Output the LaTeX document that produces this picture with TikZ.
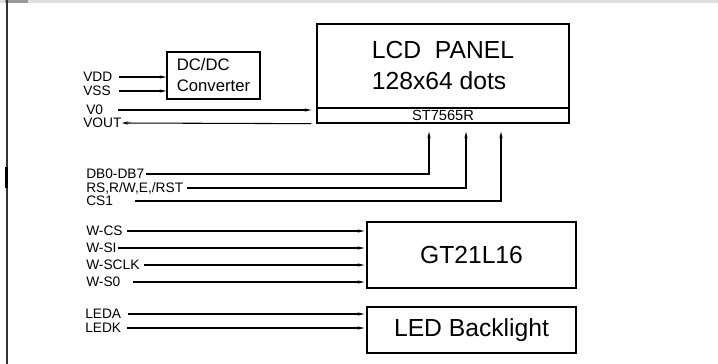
\documentclass[tikz,border=0pt]{standalone}
\usepackage{fontspec}
\setmainfont{Liberation Sans}
\usetikzlibrary{arrows.meta}
\begin{document}
\begin{tikzpicture}[x=0.75pt,y=-0.75pt,
  box/.style={draw,line width=1pt,inner sep=0pt},
  sig/.style={font=\fontsize{10.3}{12}\selectfont,inner sep=0pt,anchor=west},
  sigarrow/.style={line width=0.8pt,-{Stealth[length=5pt,width=2.4pt]}}]
\useasboundingbox (0,0) rectangle (718,364);
\fill[gray!25] (0,0) rectangle (718,3);
\fill[gray!80] (5,0) rectangle (28,3);
\draw[gray!40!black,line width=1.5pt] (6.5,0) -- (6.5,364);
\draw[black,line width=2.5pt] (6.5,167) -- (6.5,188);
\node[box,minimum width=189pt,minimum height=63pt,align=left,
  font=\fontsize{18.5}{23.25}\selectfont] (lcd) at (443,66)
  {LCD~~PANEL\\128x64 dots};
\node[box,minimum width=189pt,minimum height=11.25pt,font=\fontsize{11}{12}\selectfont]
  (drv) at (443,115.5) {ST7565R\hspace{8pt}};
\node[box,minimum width=69.75pt,minimum height=35.25pt,align=left,
  font=\fontsize{12.5}{15.75}\selectfont] (dcdc) at (213.5,75.5)
  {DC/DC\\Converter};
\node[box,minimum width=156.75pt,minimum height=49.5pt,font=\fontsize{18.5}{22}\selectfont]
  (gt) at (471.5,255) {GT21L16\hspace{5pt}};
\node[box,minimum width=156.75pt,minimum height=34.5pt,font=\fontsize{18.5}{22}\selectfont]
  (led) at (471.5,330) {LED Backlight\hspace{8pt}};
\node[sig] (vdd) at (83,77) {VDD};
\node[sig] (vss) at (83,91) {VSS};
\node[sig] (vzero) at (86,110) {V0};
\node[sig] (vout) at (83,123) {VOUT};
\draw[sigarrow] ([xshift=5pt]vdd.east) -- (dcdc.west |- vdd.east);
\draw[sigarrow] ([xshift=6pt]vss.east) -- (dcdc.west |- vss.east);
\draw[sigarrow,shorten >=3.75pt] ([xshift=11pt]vzero.east) -- (drv.west |- vzero.east);
\draw[sigarrow] ([xshift=-3.75pt]drv.south west) -- (vout.east);
\coordinate (dbx) at (429,0);
\coordinate (rsx) at (466,0);
\coordinate (csx) at (501,0);
\node[sig] (db) at (86,174) {DB0-DB7};
\node[sig] (rs) at (86,188) {RS,R/W,E,/RST};
\node[sig] (cs) at (86,201) {CS1};
\draw[sigarrow,shorten >=6pt] ([xshift=1pt]db.east) -| (drv.south -| dbx);
\draw[sigarrow,shorten >=6pt] ([xshift=3pt]rs.east) -| (drv.south -| rsx);
\draw[sigarrow,shorten >=6pt] ([xshift=16pt]cs.east) -| (drv.south -| csx);
\foreach \nm/\txt/\y/\gap in {wcs/W-CS/231/3, wsi/W-SI/248/1, wsclk/W-SCLK/265/3, wso/W-S0/282/9} {
  \node[sig] (\nm) at (86,\y) {\txt};
  \draw[sigarrow,shorten >=1.5pt] ([xshift=\gap pt]\nm.east) -- (gt.west |- \nm.east);
}
\foreach \nm/\txt/\y/\gap in {leda/LEDA/314/5, ledk/LEDK/328/4} {
  \node[sig] (\nm) at (85,\y) {\txt};
  \draw[sigarrow,shorten >=1.5pt] ([xshift=\gap pt]\nm.east) -- (led.west |- \nm.east);
}
\end{tikzpicture}
\end{document}
